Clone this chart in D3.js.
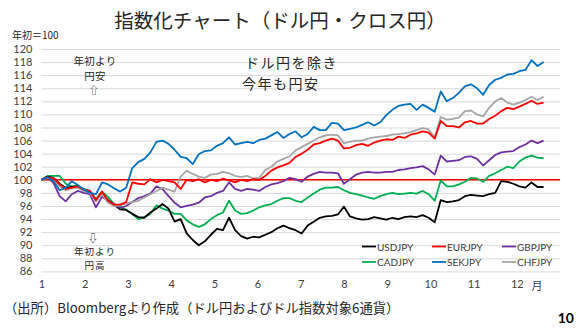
<!DOCTYPE html>
<html><head><meta charset="utf-8">
<script src="https://cdn.jsdelivr.net/npm/d3@7"></script>
<style>
body{margin:0;background:#fff;}
svg{display:block;}
</style></head>
<body>
<svg id="c" width="579" height="329"></svg>
<script>
// x positions in months (1 = start of January)
const months = [1.00,1.14,1.28,1.42,1.56,1.70,1.84,1.98,2.12,2.26,2.40,2.54,2.68,2.82,2.96,3.10,3.24,3.38,3.52,3.66,3.80,3.94,4.08,4.22,4.36,4.50,4.64,4.78,4.92,5.06,5.20,5.34,5.48,5.62,5.76,5.90,6.04,6.18,6.32,6.46,6.60,6.74,6.88,7.02,7.16,7.30,7.44,7.58,7.72,7.86,8.00,8.14,8.28,8.42,8.56,8.70,8.84,8.98,9.12,9.26,9.40,9.54,9.68,9.82,9.96,10.10,10.24,10.38,10.52,10.66,10.80,10.94,11.08,11.22,11.36,11.50,11.64,11.78,11.92,12.06,12.20,12.34,12.48,12.62];

const USDJPY = [100,100.5,100.3,99.4,98.8,98.9,99.0,98.5,98.2,96.8,97.9,96.9,96.2,95.5,95.4,94.8,94.3,94.2,95.0,95.6,96.3,95.6,93.6,94.0,91.8,90.8,90.0,90.6,91.6,92.5,92.3,94.2,92.3,91.4,91.0,91.3,91.2,91.6,92.0,92.6,93.0,92.6,92.3,91.8,93.0,93.6,94.2,94.4,94.5,94.7,95.9,94.4,94.1,93.9,94.0,94.3,94.1,93.9,94.2,94.0,94.3,94.4,94.3,94.6,94.2,93.5,96.9,96.6,96.7,96.9,97.5,97.7,97.6,97.5,97.8,98.0,99.8,99.7,99.4,99.0,98.8,99.6,98.9,98.9];
const EURJPY = [100,100.4,100.2,99.3,98.6,98.8,99.0,98.5,98.3,96.9,98.2,96.8,96.2,96.2,96.6,99.6,99.4,99.3,100.1,99.6,100.0,99.8,99.6,98.6,100.0,99.8,100.1,99.6,100.0,99.8,100.2,99.9,99.6,100.0,99.8,100.1,100.0,100.6,101.4,101.9,102.2,102.6,103.5,104.0,104.6,105.4,105.6,106.0,106.3,106.0,104.8,104.9,105.3,105.5,105.2,105.7,106.0,106.2,106.1,106.6,106.4,106.9,107.1,107.4,107.2,106.3,109.0,108.2,108.2,108.0,108.8,109.0,108.6,108.6,109.3,109.8,110.5,111.0,110.8,111.2,111.6,112.1,111.6,111.8];
const GBPJPY = [100,100.4,99.5,97.5,96.7,97.8,98.3,98.0,97.8,95.8,97.4,96.8,96.3,95.7,96.0,96.6,97.2,97.5,97.9,99.0,98.6,97.5,96.5,95.8,96.0,96.2,96.5,97.3,97.5,98.0,98.3,99.6,98.6,98.3,98.6,98.5,98.3,98.9,99.3,99.5,99.8,100.3,100.1,99.7,100.5,100.9,101.2,101.1,101.1,101.0,99.4,100.1,100.8,101.1,101.2,101.1,101.1,101.2,101.2,101.5,101.6,101.8,101.9,102.1,101.6,100.8,103.7,102.8,102.9,103.0,103.5,103.6,103.2,102.2,103.0,103.8,104.2,104.3,104.4,105.0,105.4,106.0,105.6,106.0];
const CADJPY = [100,100.6,100.6,100.6,99.4,99.0,99.1,98.6,98.3,97.1,98.2,97.4,96.3,95.9,95.4,94.8,94.0,94.3,94.8,96.1,95.6,95.3,94.8,94.8,93.8,93.2,92.8,93.2,94.0,94.6,95.0,96.8,95.3,94.8,94.9,95.3,95.8,96.1,96.3,96.8,97.2,97.2,96.8,96.6,97.3,97.9,98.5,98.8,98.8,98.9,98.4,98.0,97.8,97.6,97.3,97.1,97.5,97.8,98.0,97.8,97.9,98.0,97.9,98.3,97.8,96.8,99.9,99.0,99.0,99.3,99.7,100.3,100.2,99.7,100.6,101.0,101.5,102.0,101.8,102.8,103.4,103.7,103.4,103.3];
const SEKJPY = [100,100.4,99.8,98.4,98.8,99.8,99.2,98.5,98.0,97.8,99.6,99.3,98.7,98.2,98.8,101.8,102.7,103.2,104.2,105.8,106.0,105.5,104.6,103.5,103.3,102.4,103.9,104.4,104.5,105.2,105.6,106.5,105.4,105.6,105.8,105.6,106.1,106.3,106.8,107.3,106.4,107.0,107.4,106.5,107.0,108.1,107.6,107.6,108.7,108.6,107.6,107.8,108.0,108.4,108.8,108.3,108.8,109.9,110.7,111.3,111.5,111.6,110.7,111.5,111.0,110.4,113.5,112.0,112.5,113.3,114.3,114.6,114.0,113.0,114.5,115.3,115.6,116.1,116.2,116.6,116.8,118.3,117.4,118.0];
const CHFJPY = [100,100.3,100.2,99.0,98.4,98.7,98.8,98.3,98.0,96.8,97.8,96.5,96.0,96.1,96.4,96.6,96.8,97.3,97.8,98.3,98.8,98.5,98.2,100.5,101.4,100.9,100.5,100.3,100.8,100.9,101.2,101.0,100.6,100.4,100.6,100.2,100.3,101.5,102.0,102.8,103.2,103.6,104.5,105.0,105.5,106.0,106.5,106.8,106.9,106.8,105.6,105.8,106.0,106.0,106.3,106.5,106.6,106.7,106.9,107.0,107.1,107.3,107.6,107.9,107.7,106.5,109.6,109.2,109.3,109.5,110.5,110.6,110.0,109.7,111.0,112.0,112.5,111.8,111.5,111.8,112.2,112.7,112.2,112.7];

const seriesNames = ["USDJPY","EURJPY","GBPJPY","CADJPY","SEKJPY","CHFJPY"];
const seriesValues = [USDJPY,EURJPY,GBPJPY,CADJPY,SEKJPY,CHFJPY];
const seriesColors = ["#000000","#FF0000","#7030A0","#00B050","#0070C0","#A6A6A6"];
const drawOrder = [3,0,2,5,1,4];
const yTicks = [86,88,90,92,94,96,98,100,102,104,106,108,110,112,114,116,118,120];
const xTicks = [1,2,3,4,5,6,7,8,9,10,11,12];

(function(){
const svg = d3.select("#c");
const pL = 41.5, pR = 560, pT = 49, pB = 271.4;
const x = d3.scaleLinear().domain([1,13]).range([pL,pR]);
const y = d3.scaleLinear().domain([86,120]).range([pB,pT]);
const jp = "'Noto Sans CJK JP', 'Noto Sans', sans-serif";
const lat = "Lato, 'Noto Sans', sans-serif";

// title
svg.append("text").attr("x",280).attr("y",28).attr("text-anchor","middle")
  .attr("font-family",jp).attr("font-size",19.5).attr("fill","#262626")
  .text("指数化チャート（ドル円・クロス円）");

// y unit
svg.append("text").attr("x",12).attr("y",34.5).attr("dominant-baseline","central")
  .attr("font-family",jp).attr("font-size",10)
  .attr("fill","#262626").text("年初＝100");

// gridlines
const grid = svg.append("g").attr("transform",`translate(${pL},0)`)
  .call(d3.axisLeft(y).tickValues(yTicks).tickSize(-(pR-pL)).tickFormat(""));
grid.select(".domain").remove();
grid.selectAll("line").attr("stroke","#D9D9D9").attr("stroke-width",1);

// y labels
const ya = svg.append("g").attr("transform",`translate(${pL-9},0)`)
  .call(d3.axisLeft(y).tickValues(yTicks).tickSize(0).tickPadding(0).tickFormat(d3.format("d")));
ya.select(".domain").remove();
ya.selectAll("text").attr("font-family",lat).attr("font-size",11).attr("fill","#404040");

// x labels
const xa = svg.append("g").attr("transform",`translate(0,${pB+9})`)
  .call(d3.axisBottom(x).tickValues(xTicks).tickSize(0).tickPadding(0).tickFormat(d3.format("d")));
xa.select(".domain").remove();
xa.selectAll("text").attr("font-family",lat).attr("font-size",11).attr("fill","#404040");
svg.append("text").attr("x",537).attr("y",290).attr("text-anchor","middle")
  .attr("font-family",jp).attr("font-size",11).attr("fill","#404040").text("月");

// 100 line
svg.append("line").attr("x1",pL).attr("x2",pR).attr("y1",y(100)).attr("y2",y(100))
  .attr("stroke","#FF0000").attr("stroke-width",1.5);

// series
const line = d3.line().x((d,i)=>x(months[i])).y(d=>y(d));
drawOrder.forEach(k=>{
  svg.append("path").datum(seriesValues[k]).attr("d",line)
    .attr("fill","none").attr("stroke",seriesColors[k]).attr("stroke-width",1.8)
    .attr("stroke-linejoin","round");
});

// annotations
const ann = (tx,xx,yy,fs,anchor,ls)=>svg.append("text").attr("x",xx).attr("y",yy)
  .attr("text-anchor",anchor||"middle").attr("dominant-baseline","central")
  .attr("letter-spacing",ls||0)
  .attr("font-family",jp).attr("font-size",fs).attr("fill","#262626").text(tx);
ann("年初より",95,60,10.5,"middle",0.3);
ann("円安",95,75,10.5,"middle",0.3);
ann("⇧",94,89,10);
ann("⇩",93,237,10);
ann("年初より",95,251,9.5,"middle",1);
ann("円高",95,265,9.5,"middle",1);
ann("ドル円を除き",245,62,14,"start",1.5);
ann("今年も円安",242,83,14,"start",1.5);

// legend
const legCols = [362,432,502], legRows = [246.5,262];
seriesNames.forEach((n,i)=>{
  const cx = legCols[i%3], cy = legRows[Math.floor(i/3)];
  svg.append("line").attr("x1",cx).attr("x2",cx+14).attr("y1",cy).attr("y2",cy)
    .attr("stroke",seriesColors[i]).attr("stroke-width",1.8);
  svg.append("text").attr("x",cx+15).attr("y",cy).attr("dominant-baseline","central")
    .attr("font-family",lat).attr("font-size",10).attr("fill","#404040").text(n);
});

// source
svg.append("text").attr("x",4).attr("y",307).attr("dominant-baseline","central")
  .attr("font-family",jp).attr("font-size",13.3).attr("fill","#262626")
  .text("（出所）Bloombergより作成（ドル円およびドル指数対象6通貨）");
svg.append("text").attr("x",574).attr("y",317).attr("text-anchor","end").attr("dominant-baseline","central")
  .attr("font-family",lat).attr("font-weight","bold").attr("font-size",14).attr("fill","#000")
  .text("10");
})();
</script>
</body></html>
